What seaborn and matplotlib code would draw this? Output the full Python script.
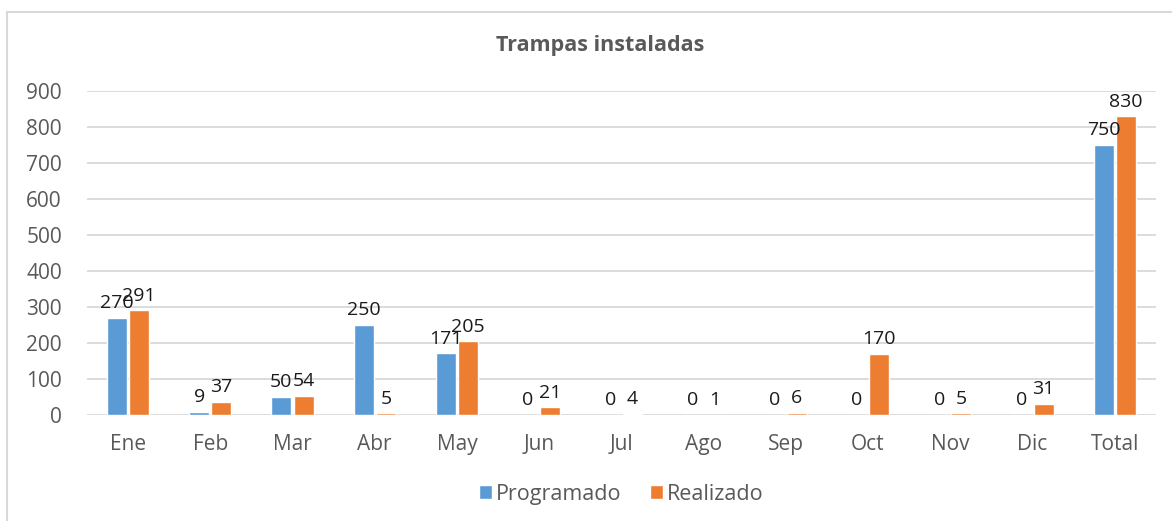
import pandas as pd
import matplotlib.pyplot as plt
import seaborn as sns
from matplotlib.patches import Rectangle

# =====================================================
# DATA
# =====================================================
meses = ["Ene", "Feb", "Mar", "Abr", "May", "Jun", "Jul",
         "Ago", "Sep", "Oct", "Nov", "Dic", "Total"]
programado = [270, 9, 50, 250, 171, 0, 0, 0, 0, 0, 0, 0, 750]
realizado = [291, 37, 54, 5, 205, 21, 4, 1, 6, 170, 5, 31, 830]
series = ["Programado", "Realizado"]
colores = ["#5B9BD5", "#ED7D31"]

df = pd.DataFrame({
    "Mes": meses * 2,
    "Valor": programado + realizado,
    "Serie": [series[0]] * len(meses) + [series[1]] * len(meses),
})

# =====================================================
# STYLE
# =====================================================
sns.set_style("white")
plt.rcParams["font.family"] = ["Open Sans", "DejaVu Sans"]

fig = plt.figure(figsize=(11.72, 5.21), dpi=100)
ax = fig.add_axes([0.0742, 0.2035, 0.912, 0.622])

# chart border
fig.patches.append(Rectangle((7 / 1172, -0.05), 1.2, 0.05 + (521 - 12) / 521,
                             transform=fig.transFigure, fill=False,
                             edgecolor="#D9D9D9", linewidth=1.5))

# =====================================================
# PLOT
# =====================================================
sns.barplot(data=df, x="Mes", y="Valor", hue="Serie", palette=colores,
            width=0.54, gap=0.1, ax=ax, saturation=1, zorder=3)

for cont in ax.containers:
    ax.bar_label(cont, padding=4, fontsize=14, color="#1a1a1a")

ax.set_ylim(0, 900)
ax.set_yticks(range(0, 901, 100))
ax.yaxis.grid(True, color="#D9D9D9", linewidth=1.3, zorder=0)
ax.set_axisbelow(True)
for s in ax.spines.values():
    s.set_visible(False)
ax.tick_params(axis="both", length=0, labelsize=15, colors="#595959")
ax.tick_params(axis="x", pad=14)
ax.tick_params(axis="y", pad=18)
ax.set_xlabel("")
ax.set_ylabel("")
ax.set_xlim(-0.5, len(meses) - 0.5)

fig.text(0.512, 0.912, "Trampas instaladas", ha="center", va="center",
         fontsize=15.5, fontweight="bold", color="#595959")

ax.legend(loc="center", bbox_to_anchor=(0.5, -0.245), ncol=2, frameon=False,
          fontsize=15.5, handlelength=0.6, handleheight=0.6, handletextpad=0.2,
          columnspacing=1.3, labelcolor="#595959")

plt.savefig("out.png", dpi=100)
plt.close()
